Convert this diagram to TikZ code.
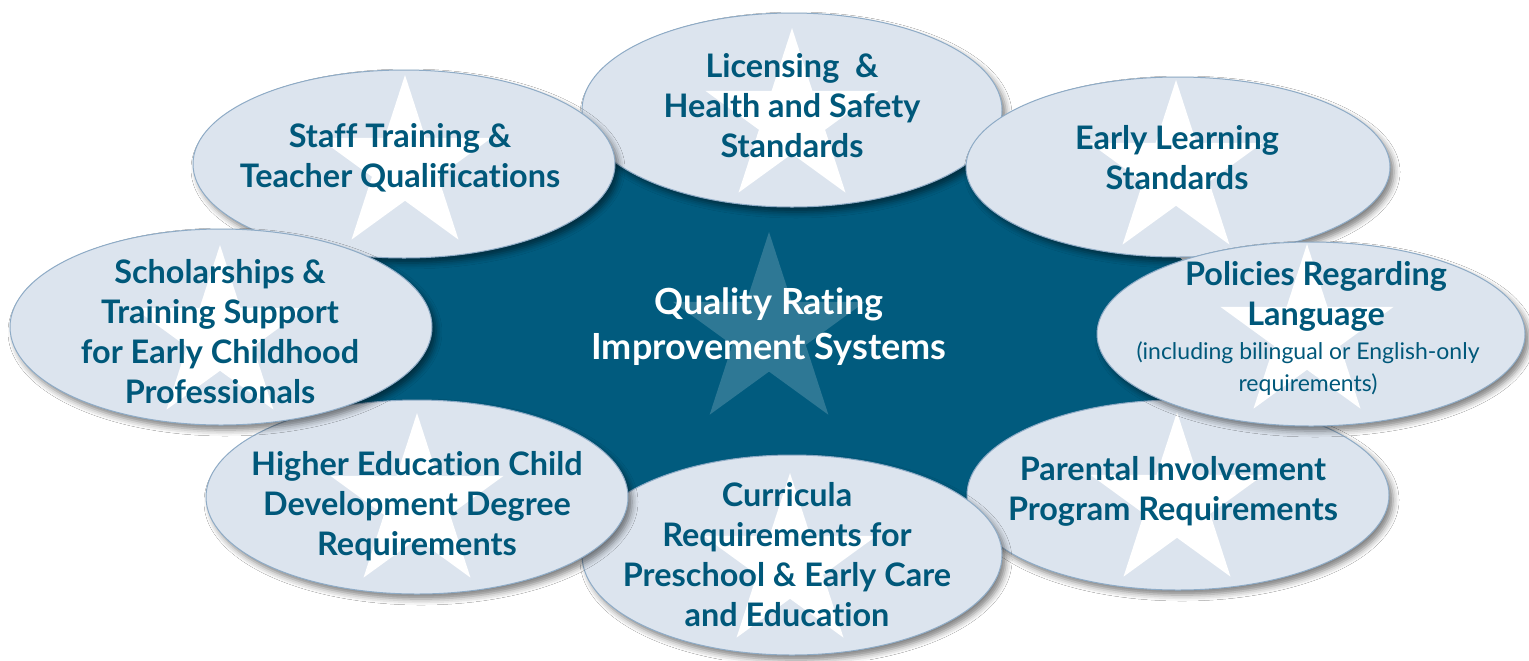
\documentclass[tikz,border=0pt]{standalone}
\usepackage{fontspec}
\setmainfont{Lato}[Ligatures={NoCommon,NoRare,NoContextual}]
\usetikzlibrary{shapes.geometric,shadows.blur}
\definecolor{darkteal}{HTML}{015B7E}
\definecolor{textteal}{HTML}{00587A}
\definecolor{bubblefill}{HTML}{DCE4EE}
\definecolor{bubbleedge}{HTML}{8EABC6}
\begin{document}
\begin{tikzpicture}[x=0.5pt,y=-0.5pt,
  bubble/.style={ellipse, draw=bubbleedge, line width=0.5pt, fill=bubblefill, inner sep=0pt,
    blur shadow={shadow xshift=2pt, shadow yshift=-2.5pt, shadow blur radius=3pt, shadow opacity=50}},
  whitestar/.style={star, star points=5, star point ratio=2.618, fill=white, draw=none, inner sep=0pt, minimum size=91pt},
  lbl/.style={text=textteal, font=\bfseries\fontsize{16.2}{20}\selectfont, align=center, inner sep=0pt},
  sublbl/.style={text=textteal, font=\fontsize{11.5}{16}\selectfont, align=center, inner sep=0pt}
]
\fill[white] (0,0) rectangle (1529,660);
\useasboundingbox (0,0) rectangle (1529,660);

% central shape
\node[ellipse, fill=darkteal, minimum width=450pt, minimum height=200pt, inner sep=0pt] (core) at (775,345) {};
\node[star, star points=5, star point ratio=2.618, fill=white, fill opacity=0.18, inner sep=0pt, minimum size=101pt] (corestar) at (769,333) {};
\node[text=white, font=\bfseries\fontsize{18}{22.5}\selectfont, align=center, inner sep=0pt] (qris) at (769,327) {Quality Rating\\Improvement Systems};

% Licensing
\node[bubble, minimum width=210pt, minimum height=97pt] (lic) at (792,110) {};
\node[whitestar] (licstar) at (792,119) {};
\node[lbl] (lictext) at (792,106) {Licensing~\ \&\\Health and Safety\\Standards};

% Early learning
\node[bubble, minimum width=212pt, minimum height=90pt] (elb) at (1178,167) {};
\node[whitestar] (elstar) at (1176,171) {};
\node[lbl] (eltext) at (1177,158) {Early Learning\\Standards};

% Parental
\node[bubble, minimum width=211pt, minimum height=95pt] (par) at (1178,495) {};
\node[whitestar] (parstar) at (1177,503) {};
\node[lbl] (partext) at (1173,491) {Parental Involvement\\Program Requirements};

% Curricula
\node[bubble, minimum width=210pt, minimum height=100pt] (cur) at (792,555) {};
\node[whitestar] (curstar) at (790,564) {};
\node[lbl] (curtext) at (787,555) {Curricula\\Requirements for\\Preschool \& Early Care\\and Education};

% Higher Education
\node[bubble, minimum width=211pt, minimum height=97pt] (hed) at (417,497) {};
\node[whitestar] (hedstar) at (417,504) {};
\node[lbl] (hedtext) at (417,506) {Higher Education Child\\Development Degree\\Requirements};

% Staff
\node[bubble, minimum width=211pt, minimum height=94pt] (stf) at (404,164) {};
\node[whitestar] (stfstar) at (405,166) {};
\node[lbl] (stftext) at (400,158) {Staff Training \&\\Teacher Qualifications};

% Scholarships
\node[bubble, minimum width=211pt, minimum height=98pt] (sch) at (221,327) {};
\node[whitestar] (schstar) at (220,336) {};
\node[lbl] (schtext) at (220,332) {Scholarships \&\\Training Support\\for Early Childhood\\Professionals};

% Policies
\node[bubble, minimum width=214pt, minimum height=92pt] (pol) at (1311,334) {};
\node[whitestar] (polstar) at (1307,335) {};
\node[lbl] (poltext) at (1316,296) {Policies Regarding\\Language};
\node[sublbl] (polsub) at (1308,369) {(including bilingual or English-only\\requirements)};
\end{tikzpicture}
\end{document}
